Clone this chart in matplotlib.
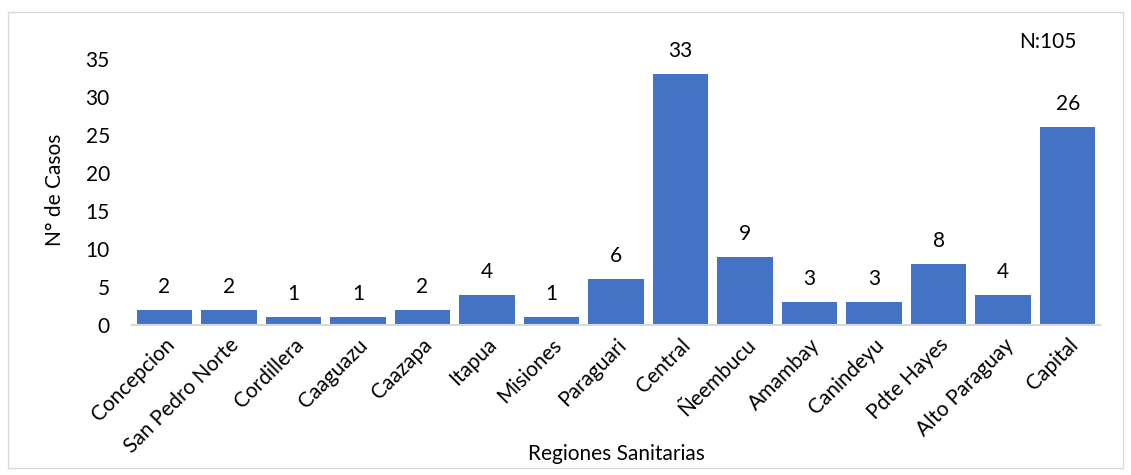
import matplotlib
matplotlib.use('Agg')
import matplotlib.pyplot as plt
from matplotlib.patches import Rectangle

# ── data ──
regiones = ['Concepcion', 'San Pedro Norte', 'Cordillera', 'Caaguazu', 'Caazapa',
            'Itapua', 'Misiones', 'Paraguari', 'Central', 'Ñeembucu', 'Amambay',
            'Canindeyu', 'Pdte Hayes', 'Alto Paraguay', 'Capital']
casos = [2, 2, 1, 1, 2, 4, 1, 6, 33, 9, 3, 3, 8, 4, 26]
y_ticks = [0, 5, 10, 15, 20, 25, 30, 35]

BarBlue = '#4472C4'
AxisGray = '#D9D9D9'
TextBlack = '#000000'

plt.rcParams['font.family'] = ['Lato', 'DejaVu Sans']

fig = plt.figure(figsize=(11.31, 4.75), dpi=100)
ax = fig.add_axes([132 / 1131, 1 - 325 / 475, 968 / 1131, 266 / 475])

x = list(range(len(regiones)))
bars = ax.bar(x, casos, width=0.86, color=BarBlue)

for xi, v in zip(x, casos):
    ax.annotate(str(v), xy=(xi, v), xytext=(0, 16.5), textcoords='offset points',
                ha='center', va='center', fontsize=15, color=TextBlack)

ax.set_xlim(-0.5, len(regiones) - 0.5)
ax.set_ylim(0, 35)
ax.set_yticks(y_ticks)
ax.set_xticks(x)
ax.set_xticklabels(regiones, rotation=45, ha='right', rotation_mode='anchor')
ax.tick_params(axis='both', length=0, labelsize=15, colors=TextBlack)
ax.tick_params(axis='y', pad=16)
ax.tick_params(axis='x', pad=7)

for s in ['top', 'right', 'left']:
    ax.spines[s].set_visible(False)
ax.spines['bottom'].set_color(AxisGray)
ax.spines['bottom'].set_linewidth(1.5)

ax.text(0.946, 1.064, 'N:105', transform=ax.transAxes, ha='center', va='center',
        fontsize=15, color=TextBlack)

fig.text(616 / 1131, 1 - 454 / 475, 'Regiones Sanitarias', ha='center', va='center',
         fontsize=15, color=TextBlack)
fig.text(55 / 1131, 1 - 190 / 475, 'N° de Casos', ha='center', va='center',
         rotation=90, fontsize=15, color=TextBlack)

# outer chart frame
fig.patches.append(Rectangle((8 / 1131, 1 - 468 / 475), 1115 / 1131, 456 / 475,
                             transform=fig.transFigure, fill=False,
                             edgecolor=AxisGray, linewidth=1))

fig.savefig('out.png', dpi=100)
